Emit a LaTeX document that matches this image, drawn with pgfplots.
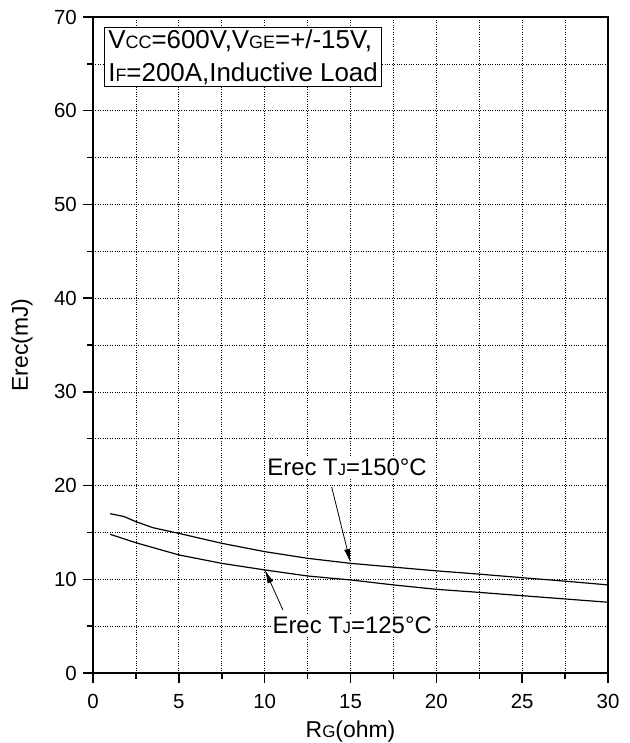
\documentclass[border=0pt]{standalone}
\usepackage{pgfplots}
\pgfplotsset{compat=1.18}
\usepackage{fontspec}
\setmainfont{Liberation Sans}
\usetikzlibrary{arrows.meta}
% small capitals used as subscripts in the datasheet labels
\newcommand{\sub}[1]{{\fontsize{16.5}{16.5}\selectfont #1}}
\newcommand{\boxsub}[1]{{\fontsize{18}{18}\selectfont #1}}
\newcommand{\lblsub}[1]{{\fontsize{17}{17}\selectfont #1}}
\newcommand{\boxtxt}{\fontsize{26}{33}\selectfont}
\newcommand{\bigtxt}{\fontsize{24}{28}\selectfont}
\newcommand{\ticktxt}{\fontsize{20.5}{20.5}\selectfont}
\newcommand{\lbltxt}{\fontsize{23}{23}\selectfont}

\begin{document}
\begin{tikzpicture}
\begin{axis}[
    name=ax,
    scale only axis,
    width=515bp, height=656bp,
    xmin=0, xmax=30, ymin=0, ymax=70,
    line width=1.8pt,
    xtick={0,5,...,30}, ytick={0,10,...,70},
    minor xtick={2.5,7.5,...,27.5}, minor ytick={5,15,...,65},
    grid=both,
    major grid style={black, dotted, line width=0.7pt},
    minor grid style={black, dotted, line width=0.7pt},
    tick pos=left, tick align=outside,
    major tick length=10bp, minor tick length=6bp,
    major tick style={black, line width=1.5pt},
    minor tick style={black, line width=1.5pt},
    /pgf/number format/assume math mode=true,
    ticklabel style={font=\ticktxt},
    xticklabel style={yshift=-7bp},
    yticklabel style={xshift=-2bp},
    xlabel style={font=\lbltxt, yshift=-5bp},
    ylabel style={font=\lbltxt, yshift=14bp},
    xlabel={R\lblsub{G}(ohm)},
    ylabel={Erec(mJ)},
]
% Erec Tj=150C
\addplot[black, no marks, line width=1.2pt] coordinates {
  (1,17.0) (1.8,16.7) (2.5,16.15) (3.5,15.5) (5,14.9) (7.5,13.84) (10,12.95)
  (12.5,12.24) (15,11.7) (17.5,11.3) (20,10.9) (22.5,10.55) (25,10.17)
  (27.5,9.8) (30,9.4)
};
% Erec Tj=125C
\addplot[black, no marks, line width=1.2pt] coordinates {
  (1,14.8) (2.5,13.9) (5,12.6) (7.5,11.7) (10,11.0) (12.5,10.35) (15,9.93)
  (17.5,9.4) (20,8.93) (22.5,8.6) (25,8.25) (27.5,7.9) (30,7.55)
};

\node[draw, line width=0.7pt, fill=white, anchor=north west, align=left,
      inner xsep=4bp, inner ysep=2bp, font=\boxtxt]
  at (axis cs:0.64,68.93)
  {V\boxsub{CC}=600V,V\boxsub{GE}=+/-15V,\\I\boxsub{F}=200A,Inductive Load};

\node[font=\bigtxt, fill=white, inner sep=2bp] at (axis cs:14.8,21.9)
  {Erec T\sub{J}=150°C};
\node[font=\bigtxt, fill=white, inner sep=2bp] at (axis cs:15.1,5.1)
  {Erec T\sub{J}=125°C};

\draw[line width=0.8pt, -{Latex[length=14bp,width=6bp]}]
  (axis cs:13.9,19.85) -- (axis cs:15,11.75);
\draw[line width=0.8pt, -{Latex[length=14bp,width=6bp]}]
  (axis cs:11.07,6.7) -- (axis cs:10,11.05);
\end{axis}
\pgfresetboundingbox
\path (ax.south west) +(-93bp,-70bp) (ax.north east) +(21bp,17bp);
\end{tikzpicture}
\end{document}
